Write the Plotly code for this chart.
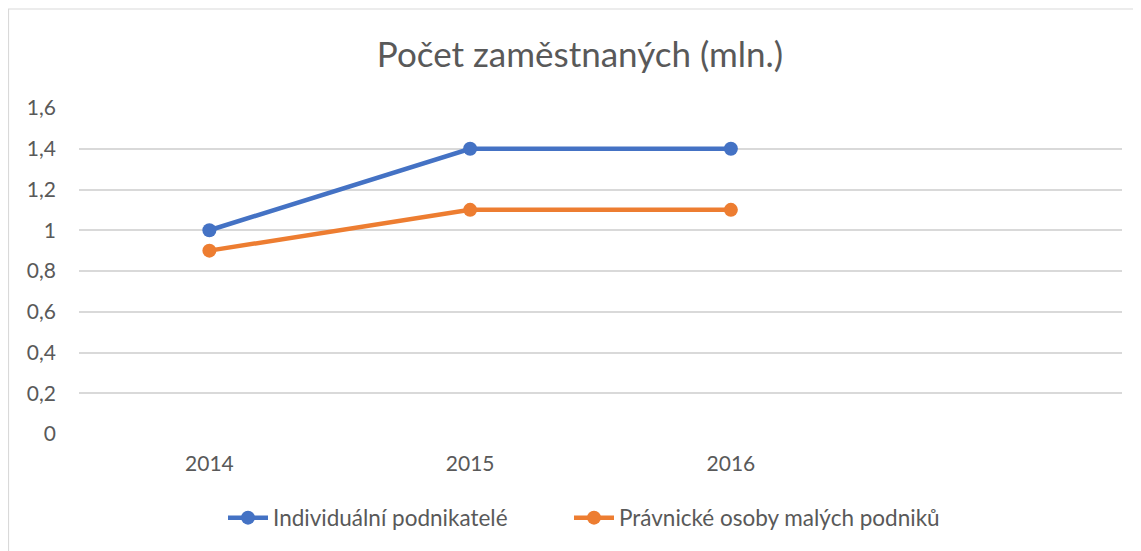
import plotly.graph_objects as go

years = ["2014", "2015", "2016"]
series_names = ["Individuální podnikatelé", "Právnické osoby malých podniků"]
individualni = [1.0, 1.4, 1.4]
pravnicke = [0.9, 1.1, 1.1]
y_ticks = [0, 0.2, 0.4, 0.6, 0.8, 1, 1.2, 1.4, 1.6]
y_tick_text = ["0", "0,2", "0,4", "0,6", "0,8", "1", "1,2", "1,4", "1,6"]
title_text = "Počet zaměstnaných (mln.)"

colors = ["#4472C4", "#ED7D31"]
FONT = "Lato, 'Open Sans', sans-serif"
TXT = "#595959"

# page is rendered with an 8px offset; figure coords = screen - 8
W, H = 1141, 551
ml, mt = 71, 100
plot_right, plot_bottom = 1114, 426
mr, mb = W - plot_right, H - plot_bottom
pw, ph = W - ml - mr, H - mt - mb

xpos = list(range(len(years)))
legend_ids = ["legend", "legend2"]
legend_left_px = [215, 561]

fig = go.Figure()
for name, vals, c, lg in zip(series_names, [individualni, pravnicke], colors, legend_ids):
    fig.add_trace(go.Scatter(
        x=xpos, y=vals, name=name, mode="lines+markers",
        line=dict(color=c, width=4.5),
        marker=dict(color=c, size=14),
        legend=lg,
    ))

legend_common = dict(orientation="h", xanchor="left",
                     y=-(510 - plot_bottom) / ph, yanchor="middle",
                     font=dict(size=22.5, color=TXT), itemwidth=40,
                     bgcolor="rgba(0,0,0,0)")

fig.update_layout(
    width=W, height=H,
    margin=dict(l=ml, r=mr, t=mt, b=mb),
    paper_bgcolor="white", plot_bgcolor="white",
    font=dict(family=FONT, color=TXT, size=21),
    title=dict(text=title_text, x=572 / W, xanchor="center",
               y=1 - 47 / H, yanchor="middle",
               font=dict(size=35, color=TXT, family=FONT)),
    xaxis=dict(range=[-0.5, 3.5], tickvals=xpos, ticktext=years,
               showgrid=False, zeroline=False, showline=False,
               ticks="", ticklabelstandoff=15, tickfont=dict(size=21)),
    yaxis=dict(range=[0, 1.6], tickvals=y_ticks, ticktext=y_tick_text,
               showgrid=True, gridcolor="#D9D9D9", gridwidth=1.5,
               zeroline=False, showline=False, ticks="",
               ticklabelstandoff=22, tickfont=dict(size=21)),
    legend=dict(x=(legend_left_px[0] - ml) / pw, **legend_common),
    legend2=dict(x=(legend_left_px[1] - ml) / pw, **legend_common),
    showlegend=True,
    shapes=[dict(type="rect", xref="paper", yref="paper",
                 x0=(0.5 - ml) / pw, x1=(1160 - ml) / pw,
                 y0=-(570 - plot_bottom) / ph, y1=1 + (mt - 1) / ph,
                 line=dict(color="#D9D9D9", width=1.2), fillcolor="rgba(0,0,0,0)",
                 layer="below")],
)

fig.write_html("out.html")
